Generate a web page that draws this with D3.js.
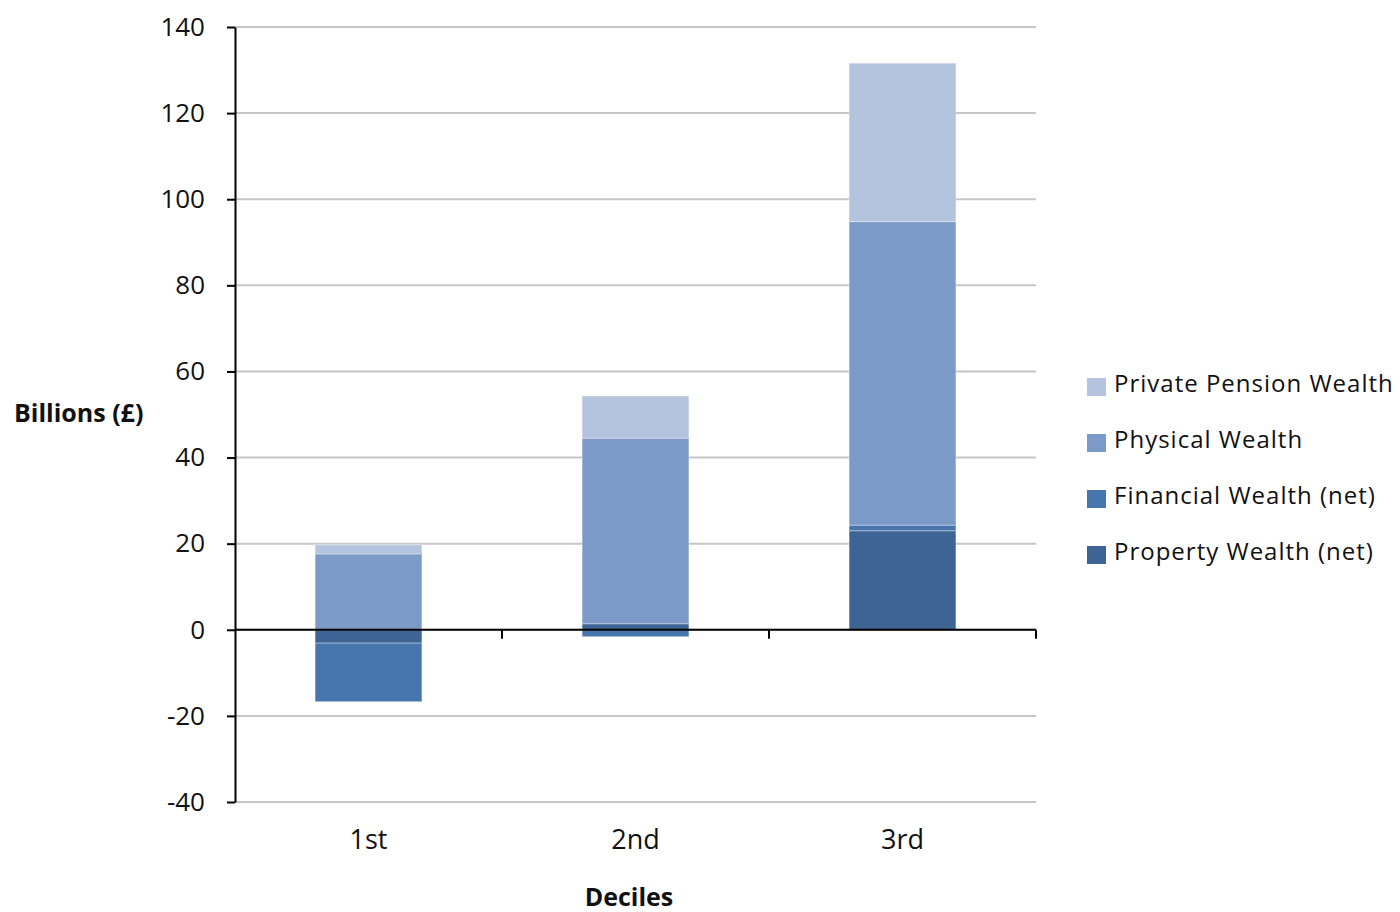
<!DOCTYPE html>
<html>
<head>
<meta charset="utf-8">
<script src="https://cdn.jsdelivr.net/npm/d3@7"></script>
<style>
  html, body { margin: 0; padding: 0; background: #fff; }
  svg { display: block; font-family: "Open Sans", "Noto Sans", sans-serif; }
</style>
</head>
<body>
<svg id="chart" width="1400" height="912"></svg>
<script>
// Wealth components by decile, billions of pounds
const deciles = ["1st", "2nd", "3rd"];
const propertyWealth = [-3.1, 1.4, 23.0];
const financialWealth = [-13.6, -1.6, 1.3];
const physicalWealth = [17.6, 43.1, 70.5];
const pensionWealth = [2.1, 9.8, 36.8];

const seriesNames = ["Property Wealth (net)", "Financial Wealth (net)", "Physical Wealth", "Private Pension Wealth"];
const seriesColors = ["#3d6494", "#4775ad", "#7b9ac7", "#b4c3de"];
const yTicks = [-40, -20, 0, 20, 40, 60, 80, 100, 120, 140];

const rows = deciles.map((d, i) => ({
  decile: d,
  [seriesNames[0]]: propertyWealth[i],
  [seriesNames[1]]: financialWealth[i],
  [seriesNames[2]]: physicalWealth[i],
  [seriesNames[3]]: pensionWealth[i]
}));

const svg = d3.select("#chart");
const plotLeft = 235, plotRight = 1036, plotTop = 27, plotBottom = 802;

const x = d3.scaleBand().domain(deciles).range([plotLeft, plotRight]).paddingInner(0.6).paddingOuter(0.3);
const y = d3.scaleLinear().domain([-40, 140]).range([plotBottom, plotTop]);

// gridlines
svg.append("g").selectAll("line").data(yTicks).join("line")
  .attr("x1", plotLeft).attr("x2", plotRight)
  .attr("y1", d => y(d)).attr("y2", d => y(d))
  .attr("stroke", "#c6c6c6").attr("stroke-width", 2);

// stacked bars (negatives stack downward from zero)
const stack = d3.stack().keys(seriesNames).offset(d3.stackOffsetDiverging);
const layers = stack(rows);
svg.append("g").selectAll("g").data(layers).join("g")
  .attr("fill", (d, i) => seriesColors[i])
  .selectAll("rect").data(d => d).join("rect")
  .attr("x", d => x(d.data.decile))
  .attr("width", x.bandwidth())
  .attr("y", d => y(Math.max(d[0], d[1])))
  .attr("height", d => Math.abs(y(d[0]) - y(d[1])))
  .attr("stroke", "#ffffff").attr("stroke-opacity", 0.35).attr("stroke-width", 1);

// y axis
const yAxis = d3.axisLeft(y).tickValues(yTicks).tickFormat(d => String(d))
  .tickSize(8).tickPadding(22).tickSizeOuter(0);
const gy = svg.append("g").attr("transform", `translate(${plotLeft},0)`).call(yAxis);
gy.select(".domain").attr("stroke", "#000").attr("stroke-width", 2);
gy.selectAll(".tick line").attr("stroke", "#000").attr("stroke-width", 2);
gy.selectAll(".tick text").attr("font-size", 26).attr("fill", "#111")
  .attr("font-family", "Open Sans, sans-serif");

// zero baseline with category separators
const gx = svg.append("g").attr("transform", `translate(0,${y(0)})`);
gx.append("line").attr("x1", plotLeft).attr("x2", plotRight).attr("stroke", "#000").attr("stroke-width", 2);
const seps = deciles.map((d, i) => plotLeft + (i + 1) * (plotRight - plotLeft) / deciles.length);
gx.selectAll("line.sep").data(seps).join("line").attr("class", "sep")
  .attr("x1", d => d).attr("x2", d => d).attr("y1", 0).attr("y2", 9)
  .attr("stroke", "#000").attr("stroke-width", 2);

// category labels
svg.append("g").selectAll("text").data(deciles).join("text")
  .attr("x", d => x(d) + x.bandwidth() / 2)
  .attr("y", 849)
  .attr("text-anchor", "middle")
  .attr("font-size", 27)
  .attr("fill", "#111")
  .text(d => d);

// axis titles
svg.append("text").attr("x", 629).attr("y", 906).attr("text-anchor", "middle")
  .attr("font-size", 25).attr("font-weight", "bold").attr("fill", "#111").text("Deciles");
svg.append("text").attr("x", 14).attr("y", 422)
  .attr("font-size", 25).attr("font-weight", "bold").attr("fill", "#111").text("Billions (£)");

// legend, top entry is the last series
const legendItems = seriesNames.slice().reverse();
const legendColors = seriesColors.slice().reverse();
const lg = svg.append("g").selectAll("g").data(legendItems).join("g")
  .attr("transform", (d, i) => `translate(1087,${392 + i * 56})`);
lg.append("rect").attr("x", 0).attr("y", -14).attr("width", 19).attr("height", 18)
  .attr("fill", (d, i) => legendColors[i]);
lg.append("text").attr("x", 27).attr("y", 0).attr("font-size", 24)
  .attr("letter-spacing", 1).attr("fill", "#111").text(d => d);
</script>
</body>
</html>
